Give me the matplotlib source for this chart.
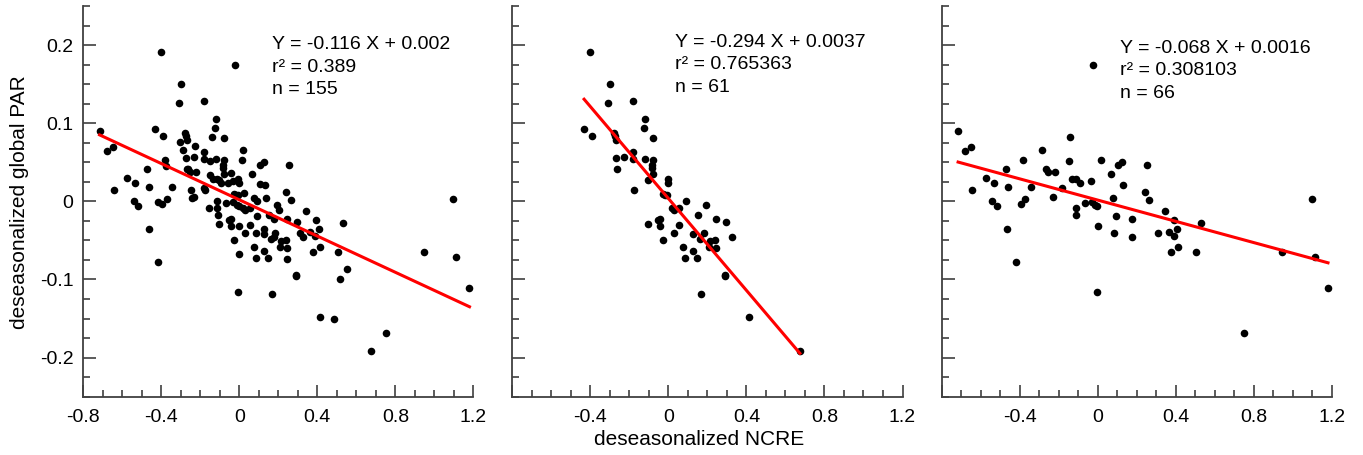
import matplotlib
matplotlib.use("Agg")
import matplotlib.pyplot as plt
import numpy as np
from matplotlib.ticker import MultipleLocator, FixedLocator

plt.rcParams['font.family'] = ['Liberation Sans', 'DejaVu Sans']
plt.rcParams['axes.unicode_minus'] = False

# points of the middle panel
mid_x = [-0.401, -0.299, -0.310, -0.179, -0.119, -0.123, -0.432, -0.391, -0.280, -0.274,
         -0.269, -0.077, -0.271, -0.230, -0.179, -0.179, -0.263, -0.119, -0.080, -0.083,
         -0.082, -0.080, -0.102, -0.004, -0.003, -0.174, -0.015, 0.018, 0.029, 0.054,
         0.091, 0.191, 0.151, 0.244, 0.297, -0.104, -0.051, -0.041, -0.042, 0.056,
         0.031, 0.128, 0.181, 0.161, 0.328, 0.214, 0.237, 0.210, 0.246, -0.027,
         0.077, 0.128, 0.084, 0.147, 0.289, 0.292, 0.169, 0.412, 0.674, -0.026, -0.008]
mid_y = [0.191, 0.150, 0.126, 0.128, 0.105, 0.094, 0.092, 0.084, 0.088, 0.083,
         0.079, 0.081, 0.056, 0.057, 0.063, 0.054, 0.041, 0.054, 0.053, 0.047,
         0.043, 0.035, 0.027, 0.028, 0.024, 0.014, 0.008, -0.009, -0.011, -0.009,
         0.000, -0.005, -0.017, -0.022, -0.026, -0.029, -0.024, -0.023, -0.031, -0.030,
         -0.040, -0.042, -0.040, -0.048, -0.046, -0.051, -0.049, -0.058, -0.060, -0.050,
         -0.058, -0.064, -0.073, -0.073, -0.094, -0.096, -0.119, -0.148, -0.191, 0.009, 0.008]

# points of the right panel
right_x = [-0.716, -0.679, -0.648, -0.643, -0.575, -0.532, -0.540, -0.517, -0.471, -0.462,
           -0.465, -0.419, -0.394, -0.382, -0.372, -0.344, -0.286, -0.266, -0.254, -0.220,
           -0.230, -0.181, -0.142, -0.150, -0.133, -0.113, -0.092, -0.114, -0.111, -0.066,
           -0.034, -0.022, -0.031, -0.014, -0.003, 0.000, -0.005, 0.014, 0.066, 0.077,
           0.092, 0.084, 0.106, 0.126, 0.131, 0.176, 0.176, 0.240, 0.254, 0.264,
           0.309, 0.344, 0.365, 0.389, 0.392, 0.407, 0.377, 0.413, 0.505, 0.530,
           0.750, 0.946, 1.096, 1.113, 1.180]
right_y = [0.090, 0.065, 0.070, 0.015, 0.030, 0.024, 0.000, -0.006, 0.041, 0.018,
           -0.036, -0.077, -0.003, 0.053, 0.003, 0.018, 0.066, 0.041, 0.037, 0.038,
           0.005, 0.017, 0.082, 0.051, 0.029, 0.028, 0.024, -0.008, -0.018, -0.002,
           0.026, 0.175, -0.001, -0.005, -0.006, -0.031, -0.116, 0.053, 0.035, 0.004,
           -0.019, -0.040, 0.047, 0.050, 0.021, -0.022, -0.045, 0.012, 0.046, 0.002,
           -0.041, -0.012, -0.039, -0.044, -0.024, -0.036, -0.065, -0.059, -0.065, -0.028,
           -0.168, -0.065, 0.003, -0.071, -0.111]

# points only found in the left (all data) panel
extra_x = [-0.415, -0.377, -0.302, -0.247, -0.244, -0.227, -0.155, -0.152, -0.056, -0.041,
           0.000, 0.017, 0.026, 0.106, 0.137, 0.205, 0.246, 0.515, 0.554, 0.488, -0.112, 0.128]
extra_y = [-0.001, 0.045, 0.076, 0.015, 0.004, 0.071, -0.009, 0.034, 0.024, 0.036,
           -0.068, 0.066, 0.011, 0.022, 0.004, -0.011, -0.074, -0.099, -0.087, -0.151, 0.000, -0.036]

slopes = [-0.116, -0.294, -0.068]
intercepts = [0.002, 0.0037, 0.0016]
fit_text = [["Y = -0.116 X + 0.002", "r\u00b2 = 0.389", "n = 155"],
            ["Y = -0.294 X + 0.0037", "r\u00b2 = 0.765363", "n = 61"],
            ["Y = -0.068 X + 0.0016", "r\u00b2 = 0.308103", "n = 66"]]

xticks = [-0.8, -0.4, 0, 0.4, 0.8, 1.2]
yticks = [-0.2, -0.1, 0, 0.1, 0.2]

all_x = np.array(mid_x + right_x + extra_x)
all_y = np.array(mid_y + right_y + extra_y)
panels = [(all_x, all_y), (np.array(mid_x), np.array(mid_y)), (np.array(right_x), np.array(right_y))]

W, H = 1363, 455
fig = plt.figure(figsize=(W / 100, H / 100), dpi=100)
lefts = [83.2, 512.3, 941.7]
text_pos = [(0.483, [0.890, 0.832, 0.776]),
            (0.417, [0.896, 0.839, 0.779]),
            (0.457, [0.880, 0.823, 0.765])]

def lab(v):
    return "0" if v == 0 else f"{v:g}"

spine_c = '#404040'
for i, (xs, ys) in enumerate(panels):
    ax = fig.add_axes([lefts[i] / W, 58.3 / H, 390.2 / W, 390.7 / H])
    ax.set_xlim(-0.8, 1.2)
    ax.set_ylim(-0.25, 0.25)
    for s in ['top', 'right']:
        ax.spines[s].set_visible(False)
    for s in ['left', 'bottom']:
        ax.spines[s].set_color(spine_c)
        ax.spines[s].set_linewidth(1.3)

    ax.scatter(xs, ys, s=30, color='black', linewidths=0, zorder=3, clip_on=False)
    lx = np.array([xs.min(), xs.max()])
    ax.plot(lx, slopes[i] * lx + intercepts[i], color='red', lw=2.2, zorder=4)

    ax.xaxis.set_major_locator(FixedLocator(xticks))
    ax.xaxis.set_minor_locator(MultipleLocator(0.1))
    ax.yaxis.set_major_locator(FixedLocator(yticks))
    ax.yaxis.set_minor_locator(MultipleLocator(0.025))
    xl = [lab(v) for v in xticks]
    if i > 0:
        xl[0] = ""
    ax.set_xticklabels(xl)
    if i == 0:
        ax.set_yticklabels([lab(v) for v in yticks])
    else:
        ax.set_yticklabels([])
    ax.tick_params(which='both', direction='in', color=spine_c, width=1.2, labelsize=14)
    ax.tick_params(which='major', length=9)
    ax.tick_params(which='minor', length=5)
    ax.tick_params(axis='x', which='major', pad=9)
    ax.tick_params(axis='y', which='major', pad=7)

    tx, tys = text_pos[i]
    for line, ty in zip(fit_text[i], tys):
        ax.text(tx, ty, line, transform=ax.transAxes, fontsize=14, va='baseline', ha='left')

fig.text(699 / W, 10 / H, "deseasonalized NCRE", fontsize=15, ha='center', va='baseline')
fig.text(20 / W, (H - 202.5) / H, "deseasonalized global PAR", fontsize=15,
         rotation=90, ha='center', va='center')

fig.savefig("out.png", dpi=100)
